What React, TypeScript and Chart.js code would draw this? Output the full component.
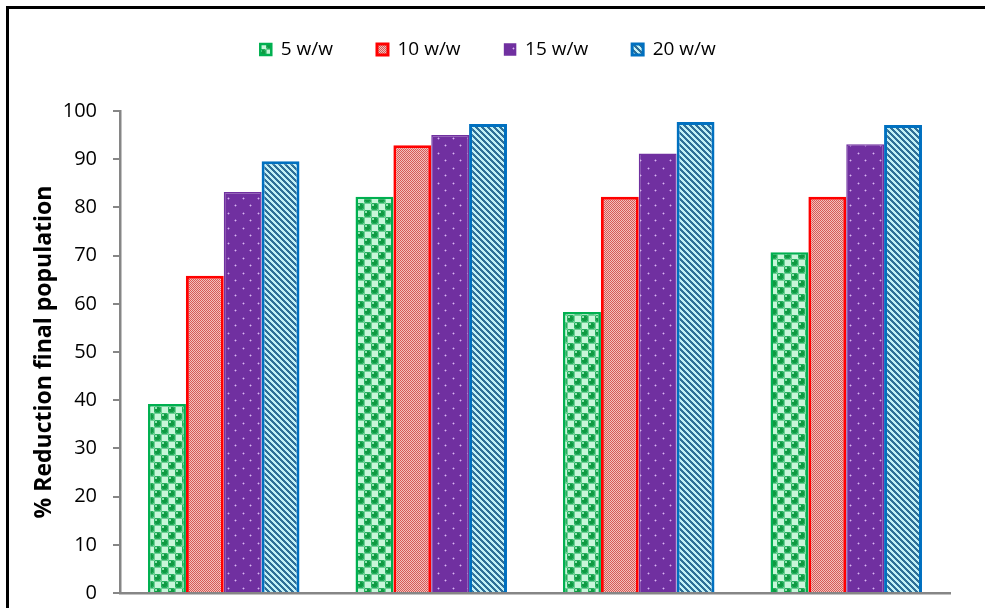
import React, { useEffect, useRef } from "react";
import { Chart, registerables } from "chart.js";

Chart.register(...registerables);

const categories = ["", "", "", ""];
const seriesLabels = ["5 w/w", "10 w/w", "15 w/w", "20 w/w"];
const s5 = [39.2, 82.2, 58.3, 70.7];
const s10 = [65.8, 92.9, 82.2, 82.2];
const s15 = [83.2, 95.0, 91.2, 93.1];
const s20 = [89.6, 97.3, 97.7, 97.1];
const yTicks = [0, 10, 20, 30, 40, 50, 60, 70, 80, 90, 100];

type RGB = [number, number, number];
function hex(h: string): RGB {
  const n = parseInt(h.slice(1), 16);
  return [(n >> 16) & 255, (n >> 8) & 255, n & 255];
}
function makePattern(w: number, h: number, fn: (x: number, y: number) => RGB): CanvasPattern {
  const c = document.createElement("canvas");
  c.width = w;
  c.height = h;
  const ctx = c.getContext("2d")!;
  const img = ctx.createImageData(w, h);
  for (let y = 0; y < h; y++) {
    for (let x = 0; x < w; x++) {
      const [r, g, b] = fn(x, y);
      const i = (y * w + x) * 4;
      img.data[i] = r;
      img.data[i + 1] = g;
      img.data[i + 2] = b;
      img.data[i + 3] = 255;
    }
  }
  ctx.putImageData(img, 0, 0);
  return ctx.createPattern(c, "repeat")!;
}

function greenPattern() {
  const cell = 7;
  const dark = hex("#0f9a42");
  const mid = hex("#27b060");
  const hi = hex("#8fe3b0");
  const light = hex("#c8f6da");
  const edge = hex("#6fd095");
  return makePattern(cell * 2, cell * 2, (x, y) => {
    const cx = Math.floor(x / cell);
    const cy = Math.floor(y / cell);
    const lx = (x % cell) + 0.5;
    const ly = (y % cell) + 0.5;
    if ((cx + cy) % 2 === 0) {
      const d = Math.hypot(lx - cell / 2, ly - cell / 2);
      if (d < cell / 2 + 0.4) {
        const dh = Math.hypot(lx - cell / 2 + 1.3, ly - cell / 2 + 1.3);
        if (dh < 1.2) return hi;
        if (d < cell / 2 - 0.8) return dark;
        return mid;
      }
      return edge;
    }
    if (lx < 1 || ly < 1) return edge;
    return light;
  });
}

function redPattern() {
  const a = hex("#d65a56");
  const b = hex("#f3c0bc");
  return makePattern(2, 2, (x, y) => ((x + y) % 2 === 0 ? a : b));
}

function purplePattern() {
  const bg = hex("#7030a0");
  const dot = hex("#d9b6ef");
  const dot2 = hex("#9a66c2");
  return makePattern(15, 15, (x, y) => {
    const p = [
      [3, 3],
      [10, 10],
    ];
    for (const [px, py] of p) {
      if (x === px && y === py) return dot;
      if (Math.abs(x - px) + Math.abs(y - py) === 1) return dot2;
    }
    return bg;
  });
}

function bluePattern() {
  const dark = hex("#2f6f98");
  const light = hex("#c2f0f6");
  const n = 6;
  return makePattern(n, n, (x, y) => {
    const v = (((x - y) % n) + n) % n;
    return v < 3 ? dark : light;
  });
}

const legendSpacer = {
  id: "legendSpacer",
  afterInit(chart: any) {
    const legend = chart.legend;
    if (!legend) return;
    const orig = legend.fit;
    legend.fit = function (this: any) {
      orig.call(this);
      this.height += 42;
    };
  },
};

export default function App() {
  const ref = useRef<HTMLCanvasElement | null>(null);

  useEffect(() => {
    const canvas = ref.current!;
    const fontFamily = "'Open Sans', 'DejaVu Sans', sans-serif";
    const chart = new Chart(canvas, {
      type: "bar",
      data: {
        labels: categories,
        datasets: [
          {
            label: seriesLabels[0],
            data: s5,
            backgroundColor: greenPattern(),
            borderColor: "#00b050",
            borderWidth: 2.5,
          },
          {
            label: seriesLabels[1],
            data: s10,
            backgroundColor: redPattern(),
            borderColor: "#ff0000",
            borderWidth: 3,
          },
          {
            label: seriesLabels[2],
            data: s15,
            backgroundColor: purplePattern(),
            borderColor: "#7030a0",
            borderWidth: 1.5,
          },
          {
            label: seriesLabels[3],
            data: s20,
            backgroundColor: bluePattern(),
            borderColor: "#0070c0",
            borderWidth: 3,
          },
        ],
      },
      plugins: [legendSpacer],
      options: {
        animation: false,
        responsive: false,
        devicePixelRatio: 1,
        layout: { padding: { left: 26, right: 35, top: -4, bottom: 2 } },
        datasets: {
          bar: { categoryPercentage: 0.73, barPercentage: 1 },
        },
        plugins: {
          tooltip: { enabled: false },
          legend: {
            position: "top",
            labels: {
              boxWidth: 11,
              boxHeight: 11,
              padding: 44,
              color: "#000",
              font: { family: fontFamily, size: 19 },
            },
          },
        },
        scales: {
          x: {
            grid: { display: false, drawTicks: false },
            ticks: { display: false },
            border: { display: true, color: "#868686", width: 2.5 },
          },
          y: {
            min: 0,
            max: 100,
            afterBuildTicks: (scale: any) => {
              scale.ticks = yTicks.map((v) => ({ value: v }));
            },
            afterFit: (scale: any) => {
              scale.width = 94;
            },
            grid: {
              drawOnChartArea: false,
              drawTicks: true,
              tickLength: 7,
              color: "#868686",
              lineWidth: 2,
            },
            border: { display: true, color: "#868686", width: 2.5 },
            ticks: {
              color: "#000",
              padding: 16,
              font: { family: fontFamily, size: 20 },
            },
            title: {
              display: true,
              text: "% Reduction final population",
              color: "#000",
              padding: { top: 5, bottom: 0 },
              font: { family: fontFamily, size: 23, weight: "bold" },
            },
          },
        },
      },
    } as any);
    return () => chart.destroy();
  }, []);

  return (
    <div
      style={{
        position: "fixed",
        left: 0,
        top: 0,
        width: 985,
        height: 608,
        overflow: "hidden",
        background: "#fff",
      }}
    >
      <div
        style={{
          position: "absolute",
          left: 6,
          top: 6,
          width: 1100,
          height: 700,
          border: "3px solid #000",
        }}
      />
      <canvas
        ref={ref}
        width={985}
        height={621}
        style={{ position: "absolute", left: 0, top: 0, width: 985, height: 621 }}
      />
    </div>
  );
}
